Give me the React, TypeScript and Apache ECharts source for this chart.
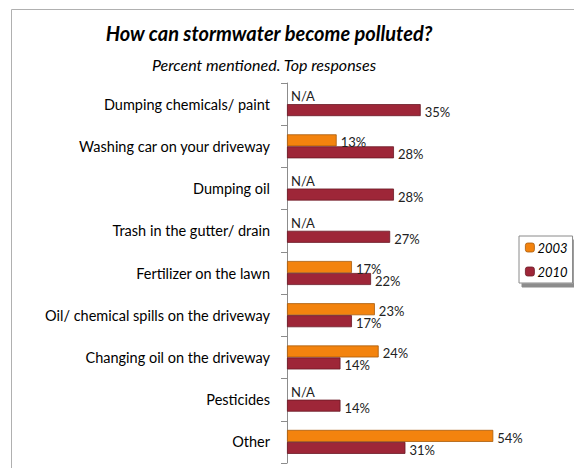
import React, { useEffect, useRef } from "react";
import * as echarts from "echarts";

const categories = [
  "Dumping chemicals/ paint",
  "Washing car on your driveway",
  "Dumping oil",
  "Trash in the gutter/ drain",
  "Fertilizer on the lawn",
  "Oil/ chemical spills on the driveway",
  "Changing oil on the driveway",
  "Pesticides",
  "Other",
];
const values2003: (number | null)[] = [null, 13, null, null, 17, 23, 24, null, 54];
const values2010: number[] = [35, 28, 28, 27, 22, 17, 14, 14, 31];
const seriesNames = ["2003", "2010"];

const FONT = "Lato";

export default function App() {
  const ref = useRef<HTMLDivElement>(null);
  useEffect(() => {
    if (!ref.current) return;
    const chart = echarts.init(ref.current, undefined, { renderer: "svg" });
    const cats = [...categories].reverse();
    const d2003 = [...values2003].reverse().map((v) =>
      v === null
        ? {
            value: 0,
            itemStyle: { color: "transparent", borderWidth: 0 },
            label: { formatter: "N/A", offset: [0, -2] },
          }
        : { value: v }
    );
    const d2010 = [...values2010].reverse();
    const labelStyle = {
      show: true,
      position: "right" as const,
      distance: 4,
      offset: [0, 2],
      fontFamily: FONT,
      fontSize: 13,
      color: "#222",
      formatter: "{c}%",
    };
    chart.setOption({
      animation: false,
      title: [
        {
          text: "How can stormwater become polluted?",
          left: 264,
          top: 18,
          textAlign: "center",
          textStyle: {
            fontFamily: FONT,
            fontSize: 20,
            fontWeight: "bold",
            fontStyle: "italic",
            color: "#000",
          },
        },
        {
          text: "Percent mentioned. Top responses",
          left: 259,
          top: 51,
          textAlign: "center",
          textStyle: {
            fontFamily: FONT,
            fontSize: 16,
            fontWeight: "normal",
            fontStyle: "italic",
            color: "#000",
          },
        },
      ],
      graphic: [
        {
          type: "rect",
          shape: { x: 11.5, y: 9.5, width: 700, height: 600 },
          style: { fill: "none", stroke: "#b0b0b0", lineWidth: 1 },
          silent: true,
        },
      ],
      legend: {
        orient: "vertical",
        left: 519,
        top: 236,
        itemWidth: 9,
        itemHeight: 9,
        itemGap: 11,
        padding: [5, 5, 5, 6],
        backgroundColor: "#fff",
        borderColor: "#8a8a8a",
        borderWidth: 1,
        borderRadius: 0,
        shadowColor: "rgba(0,0,0,0.45)",
        shadowBlur: 0,
        shadowOffsetX: 3,
        shadowOffsetY: 4,
        textStyle: {
          fontFamily: FONT,
          fontSize: 13,
          fontStyle: "italic",
          color: "#000",
          padding: [0, 0, 0, -2],
        },
        data: seriesNames.map((n) => ({ name: n, itemStyle: { borderWidth: 0.8 } })),
      },
      grid: {
        left: 287,
        right: 574 - 287 - 70 * 3.82,
        top: 83,
        bottom: 468 - 463,
        containLabel: false,
      },
      xAxis: {
        type: "value",
        min: 0,
        max: 70,
        show: false,
        splitLine: { show: false },
      },
      yAxis: {
        type: "category",
        data: cats,
        axisLine: { show: true, lineStyle: { color: "#8c8c8c", width: 1 } },
        axisTick: { show: true, length: 6, lineStyle: { color: "#8c8c8c" } },
        axisLabel: {
          fontFamily: FONT,
          fontSize: 14.5,
          color: "#000",
          margin: 17,
        },
      },
      series: [
        {
          name: seriesNames[0],
          type: "bar",
          data: d2003,
          barWidth: 12,
          barGap: "0%",
          itemStyle: { color: "#F3830E", borderColor: "#A85A0A", borderWidth: 0.8 },
          label: labelStyle,
        },
        {
          name: seriesNames[1],
          type: "bar",
          data: d2010,
          barWidth: 12,
          barGap: "0%",
          itemStyle: { color: "#9E2638", borderColor: "#6A1925", borderWidth: 0.8 },
          label: labelStyle,
        },
      ],
    });
    return () => chart.dispose();
  }, []);
  return (
    <div
      ref={ref}
      style={{ position: "fixed", left: 0, top: 0, width: 574, height: 468, background: "#fff" }}
    />
  );
}
